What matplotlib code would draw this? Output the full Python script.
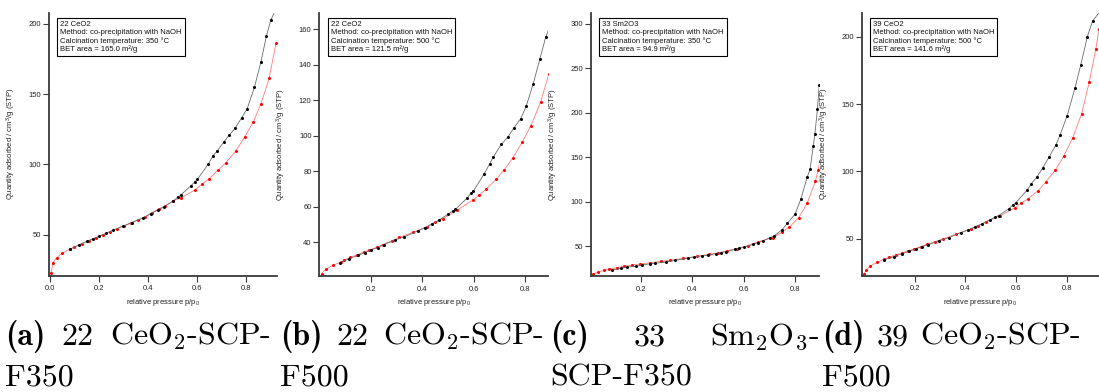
import matplotlib
matplotlib.use("Agg")
import matplotlib.pyplot as plt
from matplotlib.transforms import offset_copy

plt.rcParams["mathtext.fontset"] = "cm"
plt.rcParams["font.family"] = ["Liberation Sans", "DejaVu Sans"]

# ---- isotherm data: relative pressure p/p0 and quantity adsorbed (cm3/g STP) ----
# 22 CeO2, 350 C
a_ads_p = [0.003, 0.011, 0.026, 0.049, 0.080, 0.098, 0.128, 0.157, 0.185, 0.214, 0.243,
           0.271, 0.300, 0.328, 0.357, 0.385, 0.414, 0.442, 0.470, 0.499, 0.534, 0.590,
           0.620, 0.649, 0.686, 0.717, 0.757, 0.793, 0.829, 0.859, 0.893, 0.921]
a_ads_v = [22.5, 30.0, 33.6, 36.8, 39.8, 41.3, 43.6, 45.8, 47.6, 49.7, 52.2,
           54.2, 56.3, 58.3, 60.4, 62.5, 65.6, 68.2, 70.6, 73.8, 76.3, 81.8,
           86.1, 89.9, 96.1, 101.3, 109.6, 119.4, 130.5, 142.8, 161.4, 186.3]
a_des_p = [0.080, 0.118, 0.150, 0.176, 0.200, 0.227, 0.255, 0.297, 0.333, 0.378, 0.410,
           0.440, 0.465, 0.500, 0.520, 0.532, 0.573, 0.590, 0.600, 0.645, 0.663, 0.682,
           0.707, 0.731, 0.754, 0.781, 0.803, 0.833, 0.859, 0.882, 0.900, 0.925]
a_des_v = [39.6, 42.8, 45.3, 47.2, 49.0, 51.0, 53.1, 56.1, 58.6, 62.0, 65.0,
           67.7, 69.9, 73.9, 76.6, 78.2, 84.7, 87.6, 89.4, 100.3, 106.0, 109.8,
           115.8, 121.0, 125.8, 133.3, 139.5, 155.0, 172.7, 191.5, 202.9, 212.0]

# 22 CeO2, 500 C
b_ads_p = [0.008, 0.023, 0.053, 0.082, 0.095, 0.120, 0.146, 0.171, 0.194, 0.223, 0.246,
           0.281, 0.311, 0.363, 0.420, 0.451, 0.481, 0.535, 0.597, 0.622, 0.648, 0.687,
           0.718, 0.752, 0.790, 0.822, 0.861, 0.893]
b_ads_v = [22.4, 24.8, 27.1, 28.8, 29.9, 31.6, 32.9, 34.4, 35.7, 37.2, 38.7,
           40.9, 42.8, 45.6, 48.8, 51.2, 53.3, 58.0, 63.8, 66.6, 69.8, 75.4,
           80.6, 87.3, 96.5, 105.3, 118.8, 134.6]
b_des_p = [0.080, 0.115, 0.151, 0.177, 0.200, 0.226, 0.251, 0.294, 0.330, 0.382, 0.410,
           0.436, 0.465, 0.499, 0.519, 0.529, 0.573, 0.589, 0.599, 0.641, 0.662, 0.677,
           0.708, 0.733, 0.757, 0.784, 0.805, 0.832, 0.858, 0.881, 0.896]
b_des_v = [28.5, 30.8, 32.7, 34.2, 35.7, 37.0, 38.7, 41.3, 43.1, 46.3, 48.2,
           50.3, 52.5, 55.7, 57.6, 58.5, 64.7, 67.5, 68.8, 78.5, 84.0, 88.1,
           95.1, 99.2, 104.4, 109.7, 116.6, 129.1, 143.1, 155.5, 161.1]

# 33 Sm2O3, 350 C
c_ads_p = [0.014, 0.034, 0.057, 0.077, 0.105, 0.134, 0.164, 0.196, 0.235, 0.278, 0.313,
           0.365, 0.417, 0.466, 0.501, 0.534, 0.573, 0.616, 0.657, 0.713, 0.751, 0.778,
           0.815, 0.848, 0.880, 0.891, 0.897]
c_ads_v = [18.8, 21.1, 23.0, 24.4, 25.9, 27.5, 28.9, 30.1, 31.5, 33.1, 34.2,
           36.5, 38.7, 41.0, 42.5, 45.0, 47.3, 50.7, 55.2, 59.7, 66.1, 71.7,
           82.2, 98.4, 123.2, 135.9, 146.0]
c_des_p = [0.086, 0.122, 0.147, 0.181, 0.203, 0.235, 0.255, 0.296, 0.333, 0.382, 0.408,
           0.436, 0.462, 0.492, 0.511, 0.530, 0.568, 0.583, 0.602, 0.638, 0.657, 0.677,
           0.703, 0.719, 0.749, 0.771, 0.801, 0.823, 0.848, 0.859, 0.872, 0.878, 0.888,
           0.895]
c_des_v = [23.3, 25.2, 26.7, 27.5, 28.9, 30.4, 30.9, 32.3, 34.2, 36.5, 38.0,
           39.1, 40.2, 41.7, 42.8, 43.9, 46.6, 47.7, 48.9, 52.3, 54.1, 56.3,
           59.7, 61.6, 68.4, 75.9, 86.4, 102.9, 127.7, 136.7, 163.3, 176.4, 204.3,
           231.6]

# 39 CeO2, 500 C
d_ads_p = [0.001, 0.010, 0.024, 0.053, 0.081, 0.099, 0.125, 0.152, 0.173, 0.197, 0.224,
           0.250, 0.280, 0.310, 0.363, 0.422, 0.450, 0.481, 0.536, 0.595, 0.618, 0.647,
           0.686, 0.715, 0.753, 0.787, 0.822, 0.857, 0.887, 0.913, 0.925]
d_ads_v = [23.8, 26.7, 29.5, 32.5, 34.9, 36.2, 37.9, 39.4, 40.9, 42.3, 44.1,
           45.8, 47.8, 49.8, 53.3, 57.2, 59.4, 62.4, 66.9, 73.0, 76.3, 79.7,
           85.7, 91.9, 100.8, 111.4, 125.0, 142.9, 166.6, 191.2, 206.0]
d_des_p = [0.079, 0.118, 0.152, 0.179, 0.204, 0.228, 0.254, 0.296, 0.335, 0.381, 0.410,
           0.436, 0.466, 0.497, 0.515, 0.530, 0.570, 0.588, 0.598, 0.642, 0.659, 0.682,
           0.703, 0.729, 0.756, 0.772, 0.800, 0.831, 0.853, 0.879, 0.900, 0.930]
d_des_v = [34.2, 36.6, 38.9, 40.6, 42.3, 44.1, 45.5, 48.5, 50.7, 54.5, 56.5,
           58.7, 61.1, 64.1, 65.9, 67.1, 72.1, 75.3, 76.7, 86.0, 90.9, 96.1,
           102.3, 110.7, 119.8, 127.0, 141.4, 162.2, 178.8, 199.9, 211.7, 219.0]

samples = ["22 CeO2", "22 CeO2", "33 Sm2O3", "39 CeO2"]
calc_temps = ["350", "500", "350", "500"]
bet_areas = ["165.0", "121.5", "94.9", "141.6"]
x_ticks = [[0.0, 0.2, 0.4, 0.6, 0.8], [0.2, 0.4, 0.6, 0.8], [0.2, 0.4, 0.6, 0.8], [0.2, 0.4, 0.6, 0.8]]
y_ticks = [[50, 100, 150, 200], [40, 60, 80, 100, 120, 140, 160],
           [50, 100, 150, 200, 250, 300], [50, 100, 150, 200]]
caption_tags = ["(a)", "(b)", "(c)", "(d)"]
caption_nums = ["22", "22", "33", "39"]
caption_line1 = ["CeO$_2$-SCP-", "CeO$_2$-SCP-", "Sm$_2$O$_3$-", "CeO$_2$-SCP-"]
caption_line2 = ["F350", "F500", "SCP-F350", "F500"]

series = [
    (a_ads_p, a_ads_v, a_des_p, a_des_v),
    (b_ads_p, b_ads_v, b_des_p, b_des_v),
    (c_ads_p, c_ads_v, c_des_p, c_des_v),
    (d_ads_p, d_ads_v, d_des_p, d_des_v),
]

# ---- layout (pixels) ----
W, H = 1099, 392
fig = plt.figure(figsize=(W / 100, H / 100), dpi=100)

boxes = [(49, 277, 12.7, 275.7), (319.3, 548, 12.7, 276), (591, 819, 12.7, 276), (861.7, 1099, 12.7, 275.7)]
xlims = [(-0.0053, 0.925), (-0.0016, 0.89), (0.005, 0.894), (-0.008, 0.925)]
ylims = [(20.8, 208), (21, 169.3), (16.6, 312.7), (22.5, 217.8)]

axis_col = "#3a3a3a"
small = 5.5

for i in range(4):
    l, r, t, b = boxes[i]
    ax = fig.add_axes([l / W, 1 - b / H, (r - l) / W, (b - t) / H])
    ads_p, ads_v, des_p, des_v = series[i]
    ax.plot(ads_p, ads_v, color="#ff7a7a", lw=0.6, marker="o", ms=2.2,
            mfc="#ff0000", mec="#ff0000", mew=0)
    ax.plot(des_p, des_v, color="#6a6a6a", lw=0.6, marker="o", ms=2.2,
            mfc="#000000", mec="#000000", mew=0)
    ax.set_xlim(*xlims[i])
    ax.set_ylim(*ylims[i])
    ax.set_xticks(x_ticks[i])
    ax.set_xticklabels([f"{v:.1f}" for v in x_ticks[i]])
    ax.set_yticks(y_ticks[i])
    for s in ("top", "right"):
        ax.spines[s].set_visible(False)
    for s in ("left", "bottom"):
        ax.spines[s].set_color(axis_col)
        ax.spines[s].set_linewidth(1.3)
    ax.tick_params(axis="both", direction="out", length=4.0, width=0.8, color=axis_col,
                   labelsize=small, labelcolor="#222222")
    ax.tick_params(axis="y", pad=1.6)
    ax.tick_params(axis="x", pad=3.0)
    ax.set_ylabel(r"Quantity adsorbed / cm$^{\mathregular{3}}$/g (STP)", fontsize=small, color="#222222")
    ax.set_xlabel(r"relative pressure p/p$_{\mathregular{0}}$", fontsize=small, color="#222222")
    ax.yaxis.set_label_coords(-31 / (r - l), 0.5)
    ax.xaxis.set_label_coords(0.5, -21.5 / (b - t))
    info = (f"{samples[i]}\nMethod: co-precipitation with NaOH\n"
            f"Calcination temperature: {calc_temps[i]} \u00b0C\nBET area = {bet_areas[i]} m\u00b2/g")
    tr = offset_copy(ax.transAxes, fig=fig, x=11.3, y=-7.8, units="dots")
    ax.text(0, 1, info, transform=tr, ha="left", va="top", fontsize=small,
            linespacing=1.22, color="#111111",
            bbox=dict(boxstyle="square,pad=0.38", fc="white", ec="black", lw=0.8))

# ---- justified two-line captions under each panel ----
cap_left = [5, 280, 550, 822]
cap_right = [271, 544, 819, 1081]
base1 = 345
base2 = 386
cap_size = 23

renderer = fig.canvas.get_renderer()
for i in range(4):
    t1 = fig.text(0, 0, caption_tags[i], family="cmb10", fontsize=cap_size, va="baseline")
    t2 = fig.text(0, 0, caption_nums[i], family="cmr10", fontsize=cap_size, va="baseline")
    t3 = fig.text(0, 0, caption_line1[i], family="cmr10", fontsize=cap_size, va="baseline")
    w1 = t1.get_window_extent(renderer).width
    w2 = t2.get_window_extent(renderer).width
    w3 = t3.get_window_extent(renderer).width
    gap = (cap_right[i] - cap_left[i] - w1 - w2 - w3) / 2
    y1 = 1 - base1 / H
    t1.set_position((cap_left[i] / W, y1))
    t2.set_position(((cap_left[i] + w1 + gap) / W, y1))
    t3.set_position(((cap_right[i] - w3) / W, y1))
    fig.text(cap_left[i] / W, 1 - base2 / H, caption_line2[i], family="cmr10",
             fontsize=cap_size, va="baseline")

fig.savefig("out.png", dpi=100)
